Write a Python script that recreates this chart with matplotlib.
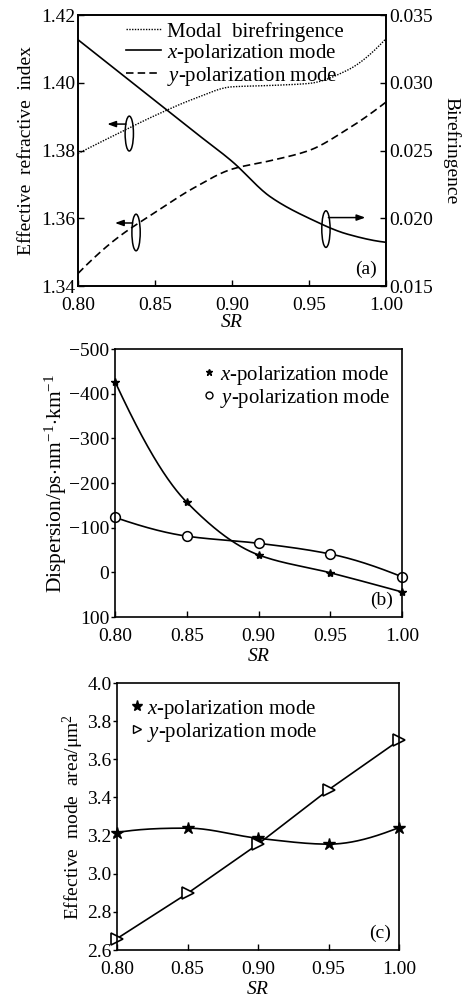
import numpy as np
import matplotlib
matplotlib.use("Agg")
import matplotlib.pyplot as plt
from matplotlib.patches import Ellipse
from matplotlib.lines import Line2D

plt.rcParams['font.family'] = ['Liberation Serif', 'DejaVu Serif']
plt.rcParams['mathtext.fontset'] = 'custom'
plt.rcParams['mathtext.rm'] = 'Liberation Serif'
plt.rcParams['mathtext.it'] = 'Liberation Serif:italic'
plt.rcParams['mathtext.bf'] = 'Liberation Serif:bold'

# ---------------- data ----------------
# panel (a)
sr_a = [0.80, 0.825, 0.85, 0.875, 0.90, 0.925, 0.95, 0.975, 1.00]
neff_x = [1.4127, 1.4037, 1.3947, 1.3857, 1.3768, 1.3663, 1.3600, 1.3553, 1.3529]
neff_y = [1.3437, 1.3540, 1.3617, 1.3689, 1.3745, 1.3770, 1.3800, 1.3863, 1.3943]
biref = [0.02478, 0.02620, 0.02758, 0.02880, 0.02970, 0.02980, 0.02995, 0.03093, 0.03325]

# panel (b)
sr_b = [0.80, 0.85, 0.90, 0.95, 1.00]
disp_x = [-427, -157, -39, 1, 44]
disp_y = [-123, -81, -65, -41, 10]

# panel (c)
sr_c = [0.80, 0.85, 0.90, 0.95, 1.00]
aeff_x = [3.216, 3.239, 3.186, 3.155, 3.242]
aeff_y = [2.660, 2.897, 3.155, 3.440, 3.699]

xticks = [0.80, 0.85, 0.90, 0.95, 1.00]
xtick_labels = ['0.80', '0.85', '0.90', '0.95', '1.00']


def pchip(x, y, xs):
    x = np.asarray(x, float); y = np.asarray(y, float)
    h = np.diff(x); d = np.diff(y) / h
    n = len(x); m = np.zeros(n)
    for k in range(1, n - 1):
        if d[k - 1] * d[k] > 0:
            w1 = 2 * h[k] + h[k - 1]; w2 = h[k] + 2 * h[k - 1]
            m[k] = (w1 + w2) / (w1 / d[k - 1] + w2 / d[k])
    def end(h0, h1, d0, d1):
        v = ((2 * h0 + h1) * d0 - h0 * d1) / (h0 + h1)
        if np.sign(v) != np.sign(d0):
            v = 0.0
        elif np.sign(d0) != np.sign(d1) and abs(v) > abs(3 * d0):
            v = 3 * d0
        return v
    m[0] = end(h[0], h[1], d[0], d[1])
    m[-1] = end(h[-1], h[-2], d[-1], d[-2])
    xs = np.asarray(xs, float)
    idx = np.clip(np.searchsorted(x, xs) - 1, 0, n - 2)
    t = (xs - x[idx]) / h[idx]
    h00 = 2 * t**3 - 3 * t**2 + 1; h10 = t**3 - 2 * t**2 + t
    h01 = -2 * t**3 + 3 * t**2; h11 = t**3 - t**2
    return h00 * y[idx] + h10 * h[idx] * m[idx] + h01 * y[idx + 1] + h11 * h[idx] * m[idx + 1]


W, H = 463, 997
fig = plt.figure(figsize=(W / 100, H / 100), dpi=100)

def pos(l, t, r, b):
    return [l / W, 1 - b / H, (r - l) / W, (b - t) / H]

FS = 14
LFS = 15
lw = 1.2
xlab = ['$\\mathit{x}$-polarization mode', '$\\mathit{y}$-polarization mode']

# ---------------- panel (a) ----------------
ax = fig.add_axes(pos(78, 15, 386, 286))
ax2 = ax.twinx()
xs = np.linspace(0.80, 1.00, 300)
l_dot, = ax2.plot(xs, pchip(sr_a, biref, xs), color='k', lw=1.0, ls=(0, (1, 1)))
l_x, = ax.plot(xs, pchip(sr_a, neff_x, xs), color='k', lw=lw)
l_y, = ax.plot(xs, pchip(sr_a, neff_y, xs), color='k', lw=lw, ls=(0, (4.5, 2.5)))
ax.set_xlim(0.80, 1.00)
ax.set_ylim(1.34, 1.42)
ax2.set_ylim(0.015, 0.035)
ax.set_yticks([1.34, 1.36, 1.38, 1.40, 1.42])
ax.set_yticklabels(['1.34', '1.36', '1.38', '1.40', '1.42'])
ax2.set_yticks([0.015, 0.020, 0.025, 0.030, 0.035])
ax2.set_yticklabels(['0.015', '0.020', '0.025', '0.030', '0.035'])
ax.set_xticks(xticks)
ax.set_xticklabels(xtick_labels)
ax.tick_params(axis='y', direction='in', length=4, width=1, labelsize=FS, pad=2)
ax.tick_params(axis='x', direction='in', length=4, width=1, labelsize=FS, pad=8)
ax2.tick_params(direction='in', length=4, width=1, labelsize=FS, pad=2)
ax.set_xlabel('$\\mathit{SR}$', fontsize=FS, labelpad=0)
ax.set_ylabel('Effective  refractive  index', fontsize=FS, labelpad=4)
ax2.set_ylabel('Birefringence', fontsize=FS, rotation=270, labelpad=20)
ax.text(0.97, 0.03, '(a)', transform=ax.transAxes, ha='right', va='bottom', fontsize=FS)
leg = ax.legend([l_dot, l_x, l_y],
                ['Modal  birefringence'] + xlab,
                loc='upper left', bbox_to_anchor=(0.155, 0.975), frameon=False, fontsize=LFS,
                handlelength=1.7, handletextpad=0.3, labelspacing=0.0, borderpad=0, borderaxespad=0)
for s in list(ax.spines.values()) + list(ax2.spines.values()):
    s.set_linewidth(1.2)

# ellipses and arrows
ells = [(0.8333, 1.3850, 0.0054, 0.0103), (0.8377, 1.3558, 0.0054, 0.0108), (0.9610, 1.3568, 0.0054, 0.0108)]
for cx, cy, w, h in ells:
    ax.add_patch(Ellipse((cx, cy), w, h, fill=False, ec='k', lw=1.1))
arrows = [((0.8312, 1.3878), (0.8190, 1.3878)),
          ((0.8355, 1.3586), (0.8240, 1.3586)),
          ((0.9626, 1.3602), (0.9866, 1.3602))]
for (x0, y0), (x1, y1) in arrows:
    ax.annotate('', xy=(x1, y1), xytext=(x0, y0),
                arrowprops=dict(arrowstyle='-|>,head_length=0.5,head_width=0.18', color='k', lw=1.1,
                                shrinkA=0, shrinkB=0))

# ---------------- panel (b) ----------------
bx = fig.add_axes(pos(115, 349, 402, 617))
bx.plot(xs, pchip(sr_b, disp_x, xs), color='k', lw=lw)
bx.plot(xs, pchip(sr_b, disp_y, xs), color='k', lw=lw)
bx.plot(sr_b, disp_x, ls='none', marker='*', ms=6, color='k', clip_on=False)
bx.plot(sr_b, disp_y, ls='none', marker='o', ms=7, mfc='white', mec='k', mew=1.1, clip_on=False)
bx.set_xlim(0.80, 1.00)
bx.set_ylim(100, -500)
bx.set_yticks([-500, -400, -300, -200, -100, 0, 100])
bx.set_yticklabels(['\u2212500', '\u2212400', '\u2212300', '\u2212200', '\u2212100', '0', '100'])
bx.set_xticks(xticks)
bx.set_xticklabels(xtick_labels)
bx.tick_params(axis='x', direction='in', length=4, width=1, labelsize=FS, pad=8)
bx.tick_params(axis='y', direction='out', length=3, width=1, labelsize=FS, pad=1)
bx.set_xlabel('$\\mathit{SR}$', fontsize=FS, labelpad=2)
bx.set_ylabel('Dispersion/ps$\\cdot$nm$^{-1}$$\\cdot$km$^{-1}$', fontsize=15.5, labelpad=0)
bx.text(0.97, 0.03, '(b)', transform=bx.transAxes, ha='right', va='bottom', fontsize=FS)
hb = [Line2D([], [], ls='none', marker='*', ms=5, color='k'),
      Line2D([], [], ls='none', marker='o', ms=5, mfc='white', mec='k', mew=1)]
bx.legend(hb, xlab,
          loc='upper left', bbox_to_anchor=(0.31, 0.945), frameon=False, fontsize=LFS,
          handlelength=0.5, handletextpad=0.25, labelspacing=0.0, borderpad=0, borderaxespad=0)
for s in bx.spines.values():
    s.set_linewidth(1.2)

# ---------------- panel (c) ----------------
cx_ = fig.add_axes(pos(117, 683, 399, 950))
cx_.plot(xs, pchip(sr_c, aeff_x, xs), color='k', lw=lw)
cx_.plot(sr_c, aeff_y, color='k', lw=lw)
cx_.plot(sr_c, aeff_x, ls='none', marker='*', ms=9, color='k', clip_on=False)
cx_.plot(sr_c, aeff_y, ls='none', marker='>', ms=8, mfc='white', mec='k', mew=1.2, clip_on=False)
cx_.set_xlim(0.80, 1.00)
cx_.set_ylim(2.6, 4.0)
cx_.set_yticks([2.6, 2.8, 3.0, 3.2, 3.4, 3.6, 3.8, 4.0])
cx_.set_yticklabels(['2.6', '2.8', '3.0', '3.2', '3.4', '3.6', '3.8', '4.0'])
cx_.set_xticks(xticks)
cx_.set_xticklabels(xtick_labels)
cx_.tick_params(axis='x', direction='in', length=4, width=1, labelsize=FS, pad=8)
cx_.tick_params(axis='y', direction='out', length=3, width=1, labelsize=FS, pad=1)
cx_.set_xlabel('$\\mathit{SR}$', fontsize=FS, labelpad=2)
cx_.set_ylabel('Effective  mode  area/\u03bcm$^{2}$', fontsize=FS, labelpad=1)
cx_.text(0.97, 0.03, '(c)', transform=cx_.transAxes, ha='right', va='bottom', fontsize=FS)
hc = [Line2D([], [], ls='none', marker='*', ms=8, color='k'),
      Line2D([], [], ls='none', marker='>', ms=6, mfc='white', mec='k', mew=1)]
cx_.legend(hc, xlab,
           loc='upper left', bbox_to_anchor=(0.05, 0.945), frameon=False, fontsize=LFS,
           handlelength=0.6, handletextpad=0.15, labelspacing=0.0, borderpad=0, borderaxespad=0)
for s in cx_.spines.values():
    s.set_linewidth(1.2)

fig.savefig('out.png', dpi=100)
